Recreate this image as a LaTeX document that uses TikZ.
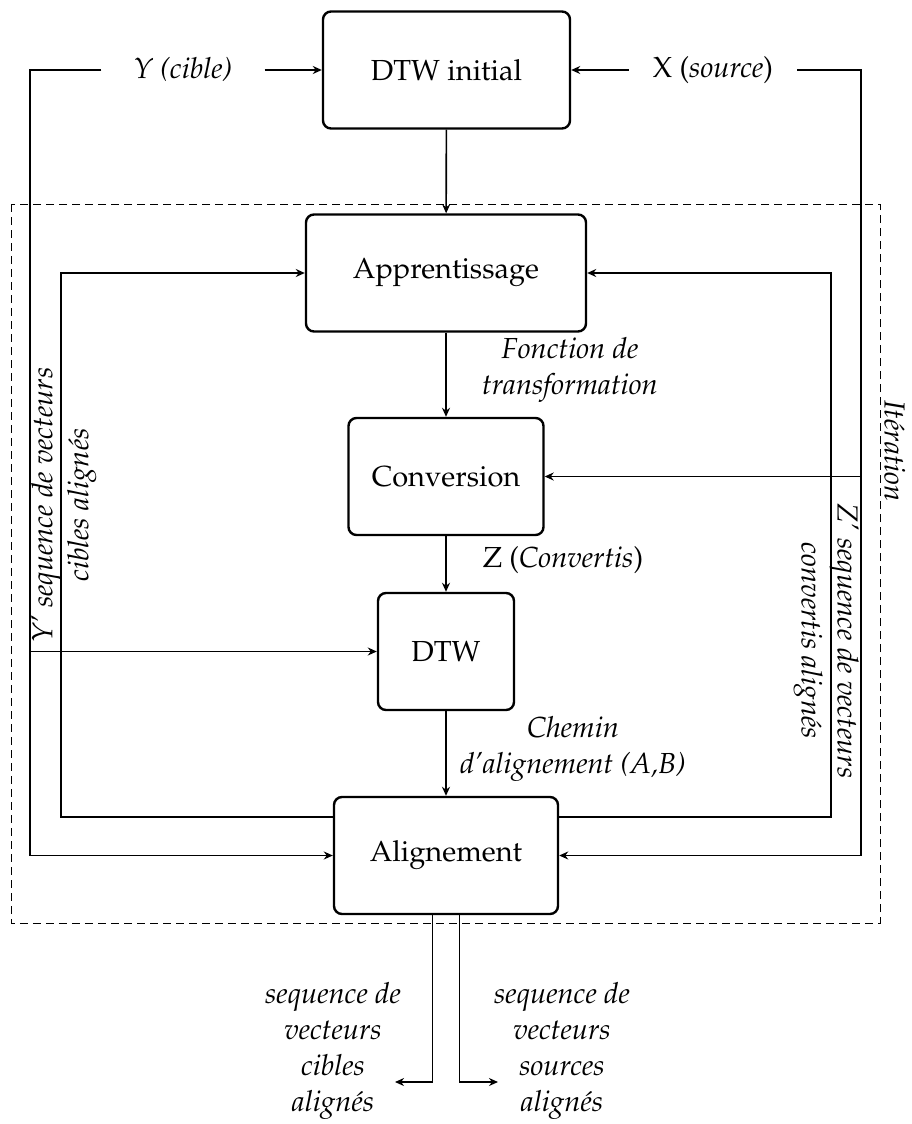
\documentclass[tikz,border=0pt]{standalone}
\usepackage[T1]{fontenc}
\usepackage{mathpazo}
\usetikzlibrary{arrows.meta}
\begin{document}
\begin{tikzpicture}[x=0.5pt,y=-0.5pt,
  font=\fontsize{14.5}{18}\selectfont,
  box/.style={draw,rounded corners=4pt,line width=1.2pt,minimum height=58.5pt,align=center},
  conn/.style={line width=0.8pt},
  arr/.style={line width=0.8pt,-{Stealth[length=4.5pt,width=4pt]}},
  lbl/.style={align=center,inner sep=0pt}]
\useasboundingbox (0,0) rectangle (911,1124);
% frame
\draw[line width=0.45pt,dash pattern=on 4pt off 2.5pt] (11,204) rectangle (880,923);
% boxes
\node[box,minimum width=123.5pt] (dtwi) at (446.5,70) {DTW initial};
\node[box,minimum width=140pt] (app) at (446,273) {Apprentissage};
\node[box,minimum width=97.5pt] (conv) at (446,476.5) {Conversion};
\node[box,minimum width=68pt] (dtw) at (446,651.5) {DTW};
\node[box,minimum width=112pt] (ali) at (446,855.5) {Alignement};
% inputs
\node[inner xsep=16pt] (ylab) at (183,70) {\textit{Y (cible)}};
\node[inner xsep=12pt] (xlab) at (713,70) {X (\textit{source})};
\coordinate (L) at (30,70);
\coordinate (R) at (861,70);
\coordinate (LI) at (61,817);
\coordinate (RI) at (831,817);
\coordinate (outL) at (395,1082);
\coordinate (outR) at (498,1082);
\draw[arr] (ylab) -- (dtwi);
\draw[arr] (xlab) -- (dtwi);
\draw[arr] (ylab.west) -- (L) |- (ali.west);
\draw[arr] (xlab.east) -- (R) |- (ali.east);
\draw[arr] (L |- dtw.west) -- (dtw.west);
\draw[arr] (R |- conv.east) -- (conv.east);
% inner loops
\draw[arr] (ali.west |- LI) -- (LI) |- (app.west);
\draw[arr] (ali.east |- RI) -- (RI) |- (app.east);
% main chain
\draw[arr] (dtwi) -- (app);
\draw[arr] (app) -- (conv);
\draw[arr] (conv) -- (dtw);
\draw[arr] (dtw) -- (ali);
% outputs
\draw[arr] ([xshift=-6.75pt]ali.south) |- (outL);
\draw[arr] ([xshift=6.75pt]ali.south) |- (outR);
% labels
\node[lbl] (lf) at (570,370) {\textit{Fonction de}\\\textit{transformation}};
\node[lbl] (lz) at (563,560) {Z (\textit{Convertis})};
\node[lbl] (lc) at (573,749) {\textit{Chemin}\\\textit{d'alignement (A,B)}};
\node[lbl,rotate=90] (ly) at (64,505) {\textit{Y' sequence de vecteurs}\\\textit{cibles alignés}};
\node[lbl,rotate=-90] (lzp) at (826,641) {\textit{Z' sequence de vecteurs}\\\textit{convertis alignés}};
\node[lbl,rotate=-90] (lit) at (895,451) {\textit{Itération}};
\node[lbl] (oc) at (333,1051) {\textit{sequence de}\\\textit{vecteurs}\\\textit{cibles}\\\textit{alignés}};
\node[lbl] (os) at (562,1051) {\textit{sequence de}\\\textit{vecteurs}\\\textit{sources}\\\textit{alignés}};
\end{tikzpicture}
\end{document}
